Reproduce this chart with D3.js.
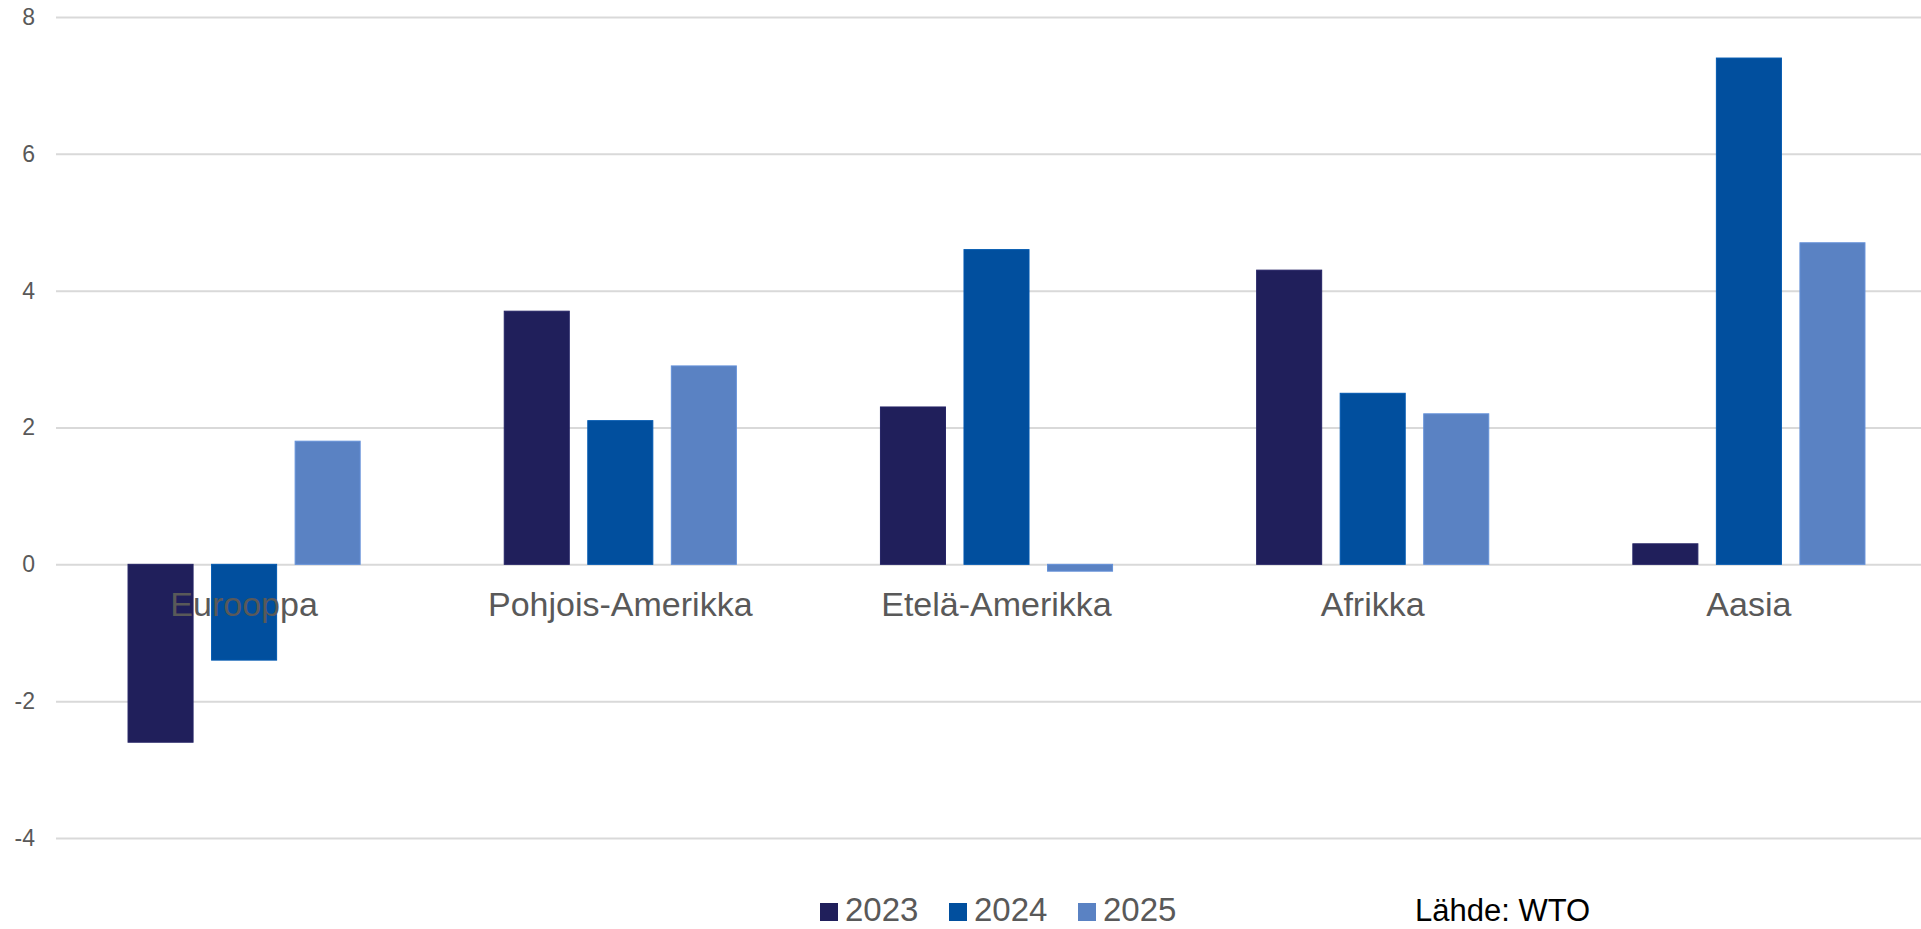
<!DOCTYPE html>
<html>
<head>
<meta charset="utf-8">
<script src="https://cdn.jsdelivr.net/npm/d3@7"></script>
<style>
  body { margin: 0; background: #fff; }
  text { font-family: "Liberation Sans", Arial, sans-serif; }
</style>
</head>
<body>
<svg id="chart" width="1921" height="929"></svg>
<script>
// regions and yearly values (%)
var regions = ["Eurooppa", "Pohjois-Amerikka", "Etelä-Amerikka", "Afrikka", "Aasia"];
var years = ["2023", "2024", "2025"];
var v2023 = [-2.6, 3.7, 2.3, 4.3, 0.3];
var v2024 = [-1.4, 2.1, 4.6, 2.5, 7.4];
var v2025 = [1.8, 2.9, -0.1, 2.2, 4.7];
var yTicks = [-4, -2, 0, 2, 4, 6, 8];
var colors = ["#201f5b", "#014f9e", "#5a82c3"];
var source = "Lähde: WTO";

var series = [v2023, v2024, v2025];

var svg = d3.select("#chart");

var x0 = d3.scaleBand()
    .domain(regions)
    .range([56, 1937])
    .paddingInner(0.383)
    .paddingOuter(0.1915);

var x1 = d3.scaleBand()
    .domain(years)
    .range([0, x0.bandwidth()])
    .paddingInner(0.2216);

var y = d3.scaleLinear()
    .domain([-4, 8])
    .range([838, 17]);

var color = d3.scaleOrdinal().domain(years).range(colors);

// y axis + gridlines (plain hyphen for negatives, like the original)
var yAxis = svg.append("g")
    .attr("transform", "translate(56,0)")
    .call(d3.axisLeft(y).tickValues(yTicks).tickSize(-1881).tickPadding(21)
      .tickFormat(function(d) { return String(d); }));
yAxis.select(".domain").remove();
yAxis.selectAll(".tick line").attr("stroke", "#d9d9d9").attr("stroke-width", 2);
yAxis.selectAll(".tick text").attr("fill", "#595959").style("font-size", "23px");

// bars
var rows = regions.map(function(r, i) {
  return { region: r, values: years.map(function(yr, j) { return { year: yr, value: series[j][i] }; }) };
});

var groups = svg.append("g").selectAll("g")
    .data(rows)
    .enter().append("g")
    .attr("transform", function(d) { return "translate(" + x0(d.region) + ",0)"; });

groups.selectAll("rect")
    .data(function(d) { return d.values; })
    .enter().append("rect")
    .attr("x", function(d) { return x1(d.year); })
    .attr("width", x1.bandwidth())
    .attr("y", function(d) { return y(Math.max(0, d.value)); })
    .attr("height", function(d) { return Math.abs(y(d.value) - y(0)); })
    .attr("fill", function(d) { return color(d.year); })
    .attr("stroke", function(d) { return d3.color(color(d.year)).brighter(0.3); })
    .attr("stroke-width", 1);

// category labels
var xAxis = svg.append("g")
    .attr("transform", "translate(0," + y(0) + ")")
    .call(d3.axisBottom(x0).tickSize(0).tickPadding(28));
xAxis.select(".domain").remove();
xAxis.selectAll(".tick text").attr("fill", "#595959").style("font-size", "34px");

// legend
var legendX = [820, 949, 1078];
var legend = svg.append("g").selectAll("g")
    .data(years)
    .enter().append("g")
    .attr("transform", function(d, i) { return "translate(" + legendX[i] + ",903)"; });
legend.append("rect")
    .attr("width", 18).attr("height", 18)
    .attr("fill", function(d) { return color(d); });
legend.append("text")
    .attr("x", 25).attr("y", 18)
    .attr("fill", "#595959")
    .style("font-size", "33px")
    .text(function(d) { return d; });

svg.append("text")
    .attr("x", 1415).attr("y", 921)
    .attr("fill", "#000")
    .style("font-size", "31px")
    .text(source);
</script>
</body>
</html>
